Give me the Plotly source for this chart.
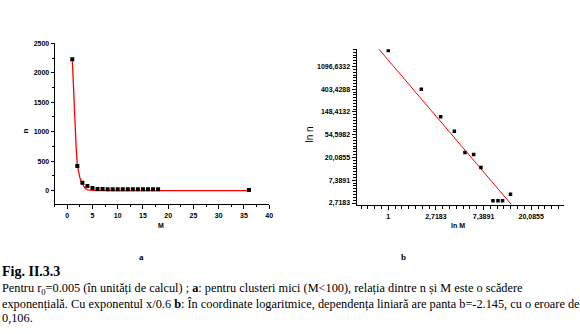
import math
import plotly.graph_objects as go

W, H = 580, 334

# ---- data: panel a (linear) ----
a_M = [1, 2, 3, 4, 5, 6, 7, 8, 9, 10, 11, 12, 13, 14, 15, 16, 17, 18, 36]
a_n = [2230, 417, 135, 80, 45, 28, 28, 22, 25, 25, 25, 25, 25, 25, 25, 25, 25, 25, 12]
a_fit_M = [1.0, 1.25, 1.5, 1.75, 2.0, 2.25, 2.5, 2.75, 3.0, 3.5, 4.0, 5.0, 5.7, 36.0]
a_fit_n = [2230, 1700, 1150, 760, 430, 300, 220, 160, 115, 45, 12, 8, 0, 0]

# ---- data: panel b (log-log) ----
b_M = [1, 2, 3, 4, 5, 6, 7, 9, 10, 11, 13]
b_n = [2200, 403, 120, 64, 25, 23, 13, 3, 3, 3, 4]
b_fit_M = [0.8, 13.2]
b_fit_n = [2500, 2.57]

# tick labels
a_xticks = [0, 5, 10, 15, 20, 25, 30, 35, 40]
a_yticks = [0, 500, 1000, 1500, 2000, 2500]
b_xtick_text = ["1", "2,7183", "7,3891", "20,0855"]
b_ytick_text = ["2,7183", "7,3891", "20,0855", "54,5982", "148,4132", "403,4288", "1096,6332"]

def px(x):
    return x / W

def py(y):
    return 1 - y / H

tickfont = dict(family="Liberation Sans", size=7, color="black", weight="bold")

fig = go.Figure()
fig.add_trace(go.Scatter(x=a_fit_M, y=a_fit_n, mode="lines",
                         line=dict(color="red", width=1.3), xaxis="x", yaxis="y",
                         showlegend=False, hoverinfo="skip"))
fig.add_trace(go.Scatter(x=a_M, y=a_n, mode="markers",
                         marker=dict(symbol="square", size=4, color="black"),
                         xaxis="x", yaxis="y", showlegend=False))
fig.add_trace(go.Scatter(x=b_fit_M, y=b_fit_n, mode="lines",
                         line=dict(color="red", width=1), xaxis="x2", yaxis="y2",
                         showlegend=False, hoverinfo="skip"))
fig.add_trace(go.Scatter(x=b_M, y=b_n, mode="markers",
                         marker=dict(symbol="square", size=3.5, color="black"),
                         xaxis="x2", yaxis="y2", showlegend=False))

e = math.e
b_xtickvals = [e ** k for k in range(0, 4)]
b_ytickvals = [e ** k for k in range(1, 8)]
b_xminor = [e ** (k / 7) for k in range(-5, 27)]
b_yminor = [e ** (k / 8) for k in range(7, 63)]

common_axis = dict(showline=True, linecolor="black", linewidth=1, showgrid=False,
                   zeroline=False, ticks="outside", tickcolor="black", tickwidth=1,
                   tickfont=tickfont, mirror=False)

fig.update_layout(
    width=W, height=H, margin=dict(l=0, r=0, t=0, b=0),
    paper_bgcolor="white", plot_bgcolor="white",
    xaxis=dict(domain=[px(55), px(271)], range=[-2.5, 40], anchor="y",
               tickmode="array", tickvals=a_xticks, ticklen=4,
               minor=dict(dtick=2.5, tick0=0, ticks="outside", ticklen=2, tickcolor="black"),
               **common_axis),
    yaxis=dict(domain=[py(204), py(40)], range=[-233, 2500], anchor="x",
               tickmode="array", tickvals=a_yticks, ticklen=3,
               minor=dict(dtick=250, tick0=0, ticks="outside", ticklen=2, tickcolor="black"),
               **common_axis),
    xaxis2=dict(domain=[px(359), px(568)], type="log",
                range=[-0.667 / math.log(10), 3.69 / math.log(10)], anchor="y2",
                tickmode="array", tickvals=b_xtickvals, ticktext=b_xtick_text, ticklen=4,
                minor=dict(tickmode="array", tickvals=b_xminor, ticks="outside",
                           ticklen=2.5, tickcolor="black"),
                **common_axis),
    yaxis2=dict(domain=[py(205), py(46)], type="log",
                range=[0.90 / math.log(10), 7.76 / math.log(10)], anchor="x2",
                tickmode="array", tickvals=b_ytickvals, ticktext=b_ytick_text, ticklen=4,
                minor=dict(tickmode="array", tickvals=b_yminor, ticks="outside",
                           ticklen=2.5, tickcolor="black"),
                **common_axis),
)

ann = []
def add(text, x, y, size, family="Liberation Sans", bold=False, xanchor="center",
        yanchor="middle", angle=0):
    ann.append(dict(text=text, x=px(x), y=py(y), xref="paper", yref="paper",
                    showarrow=False, xanchor=xanchor, yanchor=yanchor, textangle=angle,
                    font=dict(family=family, size=size, color="black",
                              weight="bold" if bold else "normal")))

serif = "Liberation Serif, Times New Roman, serif"
add("n", 26, 129, 8, bold=True, angle=-90)
add("M", 162, 226, 7, bold=True)
add("ln n", 312, 133, 10, angle=-90)
add("ln M", 461, 226, 7, bold=True)
add("a", 142, 258, 9, family=serif, bold=True)
add("b", 406, 258, 9, family=serif, bold=True)
add("Fig. II.3.3", 0, 272, 14, family=serif, bold=True, xanchor="left")
add("Pentru r<sub>0</sub>=0.005 (în unități de calcul) ; <b>a</b>: pentru clusteri mici (M&lt;100), relația dintre n și M este o scădere",
    0, 290, 12.3, family=serif, xanchor="left")
add("exponențială. Cu exponentul x/0.6 <b>b</b>: În coordinate logaritmice, dependența liniară are panta b=-2.145, cu o eroare de",
    0, 305, 12.3, family=serif, xanchor="left")
add("0,106.", 0, 320, 12.3, family=serif, xanchor="left")
fig.update_layout(annotations=ann)

fig.write_html("out.html")
